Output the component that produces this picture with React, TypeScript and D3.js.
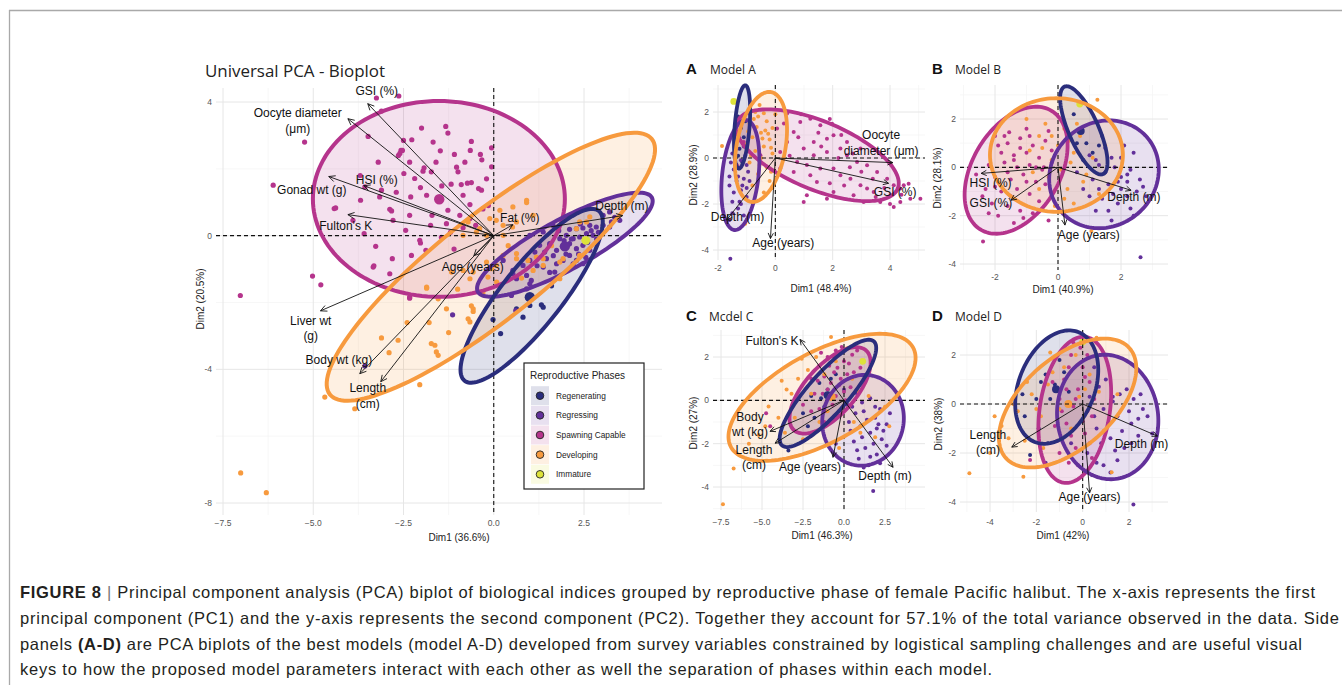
import React from 'react';
import * as d3 from 'd3';

type P = [number, number];
type Ell = [number, number, number, number, number, number];

// ---------- groups ----------
const groupNames = ['Regenerating', 'Regressing', 'Spawning Capable', 'Developing', 'Immature'];
const groupColors = ['#2a2d7c', '#62309a', '#b5348c', '#f79a3e', '#dde23a'];

// ---------- main panel data ----------
const mainRegenerating: P[] = [[1.0,-2.09],[0.81,-2.44],[-0.02,-2.51],[0.19,-2.93],[1.32,-2.07],[1.37,-2.14],[0.63,-2.19],[1.6,-1.5]];
const mainRegressing: P[] = [[3.49,0.46],[3.26,0.41],[3.03,0.31],[2.84,0.26],[2.66,0.31],[2.47,0.23],[2.29,0.21],[2.1,0.19],[2.75,0.01],[2.57,0.06],[2.38,-0.04],[2.2,-0.09],[2.01,0.01],[1.83,-0.09],[2.47,-0.29],[2.29,-0.39],[2.1,-0.24],[1.92,-0.34],[1.74,-0.44],[1.55,-0.29],[1.41,-0.49],[2.1,-0.59],[1.92,-0.74],[2.29,-0.74],[2.47,-0.84],[1.74,-0.84],[1.46,-0.69],[1.27,-0.29],[1.14,-0.49],[1.0,-0.74],[0.81,-0.89],[0.63,-1.29],[0.91,-1.19],[3.03,0.61],[3.21,0.71],[1.0,0.01],[1.37,0.11],[1.64,0.31],[3.21,0.26],[2.66,-0.44],[2.2,-0.84],[1.0,-1.44],[0.53,-1.14],[0.26,-0.74],[1.55,-0.24],[0.49,-1.79],[0.61,-2.24],[0.91,-1.59],[1.37,-0.94],[1.69,-1.09],[2.2,-0.89],[1.04,-1.34],[0.53,-1.04],[-1.14,-2.37],[-3.57,-3.9],[2.9,0.1],[2.6,-0.2],[1.8,0.15],[2.0,-0.55],[2.7,0.15],[2.4,0.35],[2.15,-0.1],[1.95,-0.15],[1.65,-0.6],[2.35,-0.55],[2.85,-0.1],[1.2,-0.9],[1.55,-1.1],[3.35,0.55],[2.55,-0.65]];
const mainSpawning: P[] = [[-3.25,4.12],[-2.63,4.18],[-1.33,3.27],[-2.0,3.22],[-2.27,2.87],[-2.5,2.85],[-1.68,2.8],[-1.27,3.07],[-0.62,2.82],[-0.06,2.63],[-1.48,2.54],[-1.09,2.43],[-0.65,2.55],[-0.37,2.43],[-0.33,2.27],[-2.57,2.55],[-2.64,2.4],[-3.2,2.2],[-0.06,2.06],[-1.03,2.05],[-0.99,1.91],[-1.93,2.03],[-1.96,1.93],[-1.73,1.91],[-2.49,1.86],[-2.19,1.71],[-1.18,1.54],[-0.9,1.53],[-0.73,1.57],[-0.62,1.59],[-0.42,1.41],[-0.34,1.36],[-2.03,1.44],[-1.44,1.49],[-2.3,1.16],[-1.86,1.21],[-0.85,1.21],[-0.66,0.93],[-3.16,1.16],[-3.69,1.06],[-2.88,0.79],[-2.83,0.74],[-4.38,0.83],[-2.33,0.61],[-1.71,0.61],[-1.27,0.76],[-0.94,0.61],[-0.66,0.51],[-2.44,0.16],[-1.75,0.31],[-1.31,0.36],[-0.85,0.24],[-0.5,0.31],[-2.05,-0.14],[-2.03,-0.22],[-1.88,-0.44],[-2.28,-0.59],[-2.81,-0.69],[-3.34,-0.94],[-2.88,-1.14],[-2.33,-1.84],[-3.11,3.73],[-5.24,2.8],[-6.11,1.51],[-4.42,0.81],[-3.48,2.97],[-3.57,1.46],[-3.9,0.46],[-3.59,0.06],[-3.27,-0.32],[-3.32,-0.9],[-2.33,2.2],[-2.6,2.46],[-2.53,2.55],[-3.11,1.36],[-2.79,0.46],[-5.02,-1.21],[-4.79,-1.47],[-7.02,-1.79],[-2.33,-1.87],[-1.45,-0.05],[-0.3,0.8],[-1.1,-0.4],[-0.2,1.7],[-1.6,2.2],[-0.8,2.2],[-2.7,1.3],[-1.2,0.1],[-0.15,0.9],[-3.7,1.8]];
const mainDeveloping: P[] = [[0.07,0.46],[0.26,0.31],[0.52,0.26],[0.63,0.41],[0.91,0.99],[1.09,0.61],[0.26,0.01],[-0.2,0.01],[-0.48,0.11],[-0.85,0.01],[-0.71,0.41],[-0.11,0.51],[-0.39,0.21],[-1.86,-1.54],[-1.17,-1.09],[-0.85,-1.04],[-0.57,-1.09],[-0.66,-1.29],[-0.2,-0.79],[0.07,-0.89],[0.26,-0.59],[0.63,-0.54],[1.18,-0.64],[1.37,-0.89],[1.09,-1.04],[1.92,-0.69],[2.38,0.41],[1.97,0.51],[2.57,0.41],[1.83,-1.29],[-0.57,-2.19],[-1.31,-2.19],[-3.11,-3.06],[-2.65,-3.13],[-1.86,-1.57],[-1.54,-1.89],[-1.79,-2.6],[-1.73,-3.23],[-1.63,-3.28],[-1.59,-3.48],[-1.54,-3.58],[-0.71,-2.49],[-0.66,-2.58],[-0.62,-2.1],[-0.57,-2.27],[-2.05,-4.46],[-4.68,-4.83],[-3.85,-5.18],[-7.01,-7.1],[-6.3,-7.69],[-0.06,-0.99],[-0.16,-1.24],[0.08,-1.39],[0.63,-0.69],[0.95,-0.74],[1.37,-0.69],[1.83,-0.79],[2.38,-0.59],[0.77,-1.27],[0.91,1.06],[0.53,0.86],[0.17,0.76],[2.66,0.56],[2.29,0.21],[-2.4,-2.6],[-1.0,-1.6],[-0.3,-1.7],[0.4,-0.3],[1.6,-0.3],[-1.25,-2.9],[-2.9,-3.5]];
const mainImmature: P[] = [[2.55,-0.14]];
const mainCentroids: (P | null)[] = [[1.0,-1.84],[1.97,-0.32],[-1.51,1.09],null,null];
const mainEllipses: (Ell | null)[] = [
  [1.05,-1.80,1.86,2.54,0.65,-0.56],
  [1.97,-0.27,2.41,1.41,0.33,-0.66],
  [-1.52,1.1,3.49,0,0,2.93],
  [-0.08,-0.93,4.46,3.82,0.89,-1.22],
  null,
];
const mainVarX = [-3.49,-4.04,-3.6,-4.57,-4.04,0.53,3.57,-0.55,-4.8,-3.71,-3.13];
const mainVarY = [3.95,3.5,1.5,1.77,0.63,0.33,0.6,-0.6,-2.25,-4.13,-4.37];
const mainLabelText = ['GSI (%)','Oocyte diameter\n(μm)','HSI (%)','Gonad wt (g)',"Fulton's K",'Fat (%)','Depth (m)','Age (years)','Liver wt\n(g)','Body wt (kg)','Length\n(cm)'];
const mainLabelX = [-3.24,-5.43,-3.24,-5.04,-4.1,0.72,3.55,-0.58,-5.07,-4.29,-3.49];
const mainLabelY = [4.34,3.44,1.68,1.38,0.3,0.54,0.9,-0.93,-2.78,-3.71,-4.79];

// ---------- panel A ----------
const aRegenerating: P[] = [[-1.3,1.8],[-1.2,1.3],[-1.1,0.9],[-1.25,0.4],[-1.15,-0.2],[-1.3,0.1],[-1.05,1.6]];
const aRegressing: P[] = [[-1.4,0.8],[-1.1,0.5],[-1.5,0.2],[-1.2,-0.1],[-1.0,-0.3],[-1.45,-0.5],[-1.3,-0.8],[-0.9,-1.0],[-1.6,-1.2],[-1.2,-1.4],[-1.0,-1.7],[-1.5,-1.9],[-1.3,-2.2],[-1.1,-2.5],[-1.6,-2.7],[-1.35,-1.0],[-1.05,0.1],[-1.55,-0.2],[-1.25,-1.9],[-0.95,-0.6],[-1.57,-4.38],[-1.4,-0.3],[-1.15,-1.2],[-1.3,-0.4],[-1.1,-0.9],[-1.45,-1.5],[-1.2,-2.0],[-1.5,-2.4],[-1.35,0.4],[-1.0,-1.3],[-1.6,-0.8]];
const aSpawning: P[] = [[0.41,1.93],[0.87,1.57],[0.64,1.13],[1.22,1.71],[1.57,1.42],[1.8,0.84],[2.03,0.99],[1.34,0.7],[0.99,0.41],[0.41,0.7],[0.17,0.26],[0.76,-0.17],[1.34,0.12],[1.8,0.26],[2.27,0.41],[2.5,0.12],[2.85,-0.17],[3.2,-0.32],[3.55,-0.61],[3.9,-0.9],[4.13,-1.19],[4.36,-1.33],[4.71,-1.77],[4.48,-1.19],[4.01,-1.62],[3.66,-1.91],[3.43,-1.48],[2.97,-1.19],[2.62,-0.9],[2.27,-0.75],[2.03,-0.46],[1.57,-0.46],[1.22,-0.75],[0.64,-0.61],[1.45,-1.04],[2.03,-1.48],[2.73,-1.62],[3.08,-1.91],[1.1,-1.62],[0.99,-1.91],[0.17,-0.46],[0.06,1.28],[1.98,1.49],[2.5,0.7],[2.97,0.41],[4.13,-2.13],[4.36,-1.91],[5.06,-1.77],[4.65,-1.12],[1.8,-1.77],[3.2,-1.33],[-0.52,0.12],[-1.1,0.7],[-1.34,-0.32],[0.3,1.5],[0.9,1.9],[1.5,1.1],[2.3,1.0],[2.7,0.2],[3.4,-0.9],[3.8,-1.3],[4.4,-1.6],[1.9,-1.1],[2.4,-1.2],[0.5,0.1],[1.1,-0.3],[1.6,0.5],[3.0,-0.6],[4.0,-2.0],[2.2,0.0],[0.8,0.9],[1.9,1.7],[2.6,-0.4],[3.5,-1.7]];
const aDeveloping: P[] = [[-0.9,1.5],[-0.6,1.8],[-0.3,1.6],[-0.1,1.3],[-0.5,1.1],[-0.8,0.9],[-0.2,0.8],[-0.4,0.5],[-0.7,0.3],[-0.1,0.2],[-0.5,0],[-0.9,-0.2],[-0.3,-0.4],[-0.6,-0.7],[-0.2,-1.0],[-0.8,-1.2],[-0.4,-1.5],[-1.0,0.6],[0.0,1.9],[-0.7,2.0],[-1.86,0.52],[-0.1,-1.3],[-0.35,1.2],[-0.65,1.35],[-0.15,0.45],[-0.55,2.3],[-1.05,-2.86],[-0.45,0.85],[-0.75,1.7],[-0.25,1.05],[-0.55,-0.3],[-0.85,0.1],[-0.15,-0.6],[-0.4,1.95],[-0.95,1.15]];
const aImmature: P[] = [[-1.45,2.46]];
const aEllipses: (Ell | null)[] = [
  [-1.16,1.35,0.11,1.81,0.26,0],
  [-1.22,-0.74,0.21,2.39,0.63,-0.09],
  [1.47,0.12,2.8,-1.45,-0.45,-1.37],
  [-0.5,0.48,0.32,2.39,0.85,-0.1],
  null,
];
const aVarX = [4.1,3.95,-1.7,-0.17];
const aVarY = [-0.2,-1.1,-2.7,-3.5];
const aLabelText = ['Oocyte\ndiameter (μm)','GSI (%)','Depth (m)','Age (years)'];
const aLabelX = [3.69,4.18,-1.32,0.28];
const aLabelY = [0.65,-1.48,-2.57,-3.7];

// ---------- panel B ----------
const bRegenerating: P[] = [[0.5,2.2],[0.7,1.5],[0.9,1.0],[1.1,0.6],[0.8,0.3],[1.3,0.9],[0.6,1.0]];
const bRegressing: P[] = [[1.0,0.5],[1.5,0.8],[2.0,0.4],[2.4,0.6],[1.3,0.1],[1.8,0.0],[2.2,-0.3],[2.6,-0.5],[1.1,-0.5],[1.6,-0.7],[2.0,-0.9],[2.5,-1.0],[1.4,-1.3],[1.9,-1.5],[2.3,-1.7],[0.8,-0.9],[1.2,-1.8],[1.7,-2.2],[2.8,-1.2],[0.6,-0.2],[2.1,0.9],[1.4,1.3],[2.62,-3.72],[2.2,-0.6],[1.75,-1.1],[1.2,0.3],[1.7,0.4],[2.3,-0.1],[1.5,-0.2],[2.0,-0.4],[1.3,-0.9],[2.2,-1.2],[1.6,-1.8],[2.7,-0.8],[1.0,-1.2],[1.9,-0.6],[2.4,-2.0]];
const bSpawning: P[] = [[-2.0,1.3],[-1.6,1.0],[-1.2,1.2],[-0.8,0.9],[-0.4,1.1],[-1.8,0.6],[-1.4,0.5],[-1.0,0.6],[-0.6,0.4],[-0.2,0.7],[-2.2,0.1],[-1.7,0.2],[-1.3,0.0],[-0.9,0.1],[-0.5,-0.1],[-2.0,-0.4],[-1.5,-0.5],[-1.1,-0.3],[-0.7,-0.6],[-2.3,-0.9],[-1.8,-1.0],[-1.3,-0.9],[-0.9,-1.1],[-2.1,-1.5],[-1.6,-1.6],[-1.2,-1.8],[-0.6,-1.4],[-1.9,-2.0],[-1.4,-2.3],[-2.4,-1.2],[-0.3,-2.2],[-0.8,-1.9],[-2.6,-0.3],[-1.0,1.6],[-0.3,1.5],[-1.55,1.45],[-0.45,0.0],[-2.38,-3.07],[-1.9,0.9],[-1.2,0.8],[-0.7,0.0],[-1.6,-0.2],[-2.0,-0.8],[-1.0,-0.6],[-1.5,-1.2],[-0.4,-0.7],[-1.7,1.3],[-0.9,1.3],[-2.2,-1.9],[-1.1,-2.1],[-0.2,0.2],[-1.4,0.3]];
const bDeveloping: P[] = [[-1.0,2.0],[-0.4,1.8],[0.2,1.6],[0.7,1.3],[1.25,2.8],[-0.6,1.3],[0.0,0.9],[0.5,0.6],[1.1,0.4],[-0.2,0.3],[-0.3,-0.4],[0.3,-0.9],[0.8,-0.6],[1.3,-1.1],[-0.1,-1.6],[0.5,-1.5],[1.06,-2.63],[-0.8,-0.2],[0.1,-0.1],[1.5,0.9],[-0.9,0.7],[0.35,1.1],[-0.5,0.8],[0.4,0.2],[0.9,-0.3],[-0.6,-0.9],[0.2,-1.3],[0.6,1.8],[-0.2,1.3]];
const bImmature: P[] = [[0.69,2.62]];
const bCentroids: (P | null)[] = [[0.72,1.5],null,null,null,null];
const bEllipses: (Ell | null)[] = [
  [0.82,1.53,-0.61,1.81,0.44,0.24],
  [1.46,-0.29,0.32,2.22,1.71,-0.21],
  [-1.33,-0.12,1.11,2.47,1.2,-0.9],
  [-0.05,0.51,2.11,0,0,2.35],
  null,
];
const bVarX = [-2.44,-1.49,2.32,0.22];
const bVarY = [-0.25,-1.36,-0.95,-2.39];
const bLabelText = ['HSI (%)','GSI (%)','Depth (m)','Age (years)'];
const bLabelX = [-2.14,-2.13,2.41,0.98];
const bLabelY = [-0.66,-1.48,-1.23,-2.8];

// ---------- panel C ----------
const cRegenerating: P[] = [[-2.0,0.2],[-1.5,0.8],[-1.0,0.5],[-2.5,-0.6],[-3.39,-2.31],[-0.5,1.2],[-1.8,-0.8],[-1.2,-0.3],[-2.2,-1.2],[-1.4,0.1],[-0.8,1.0]];
const cRegressing: P[] = [[0.0,0.5],[0.8,0.3],[1.6,0.1],[2.2,-0.4],[0.5,-0.3],[1.2,-0.5],[1.9,-0.8],[2.6,-1.1],[0.3,-1.0],[1.0,-1.2],[1.6,-1.5],[2.3,-1.8],[0.6,-1.9],[1.3,-2.2],[2.0,-2.5],[-0.5,-2.0],[0.9,-2.7],[1.78,-4.18],[2.8,-0.6],[-0.3,-0.5],[1.5,-3.0],[1.1,-0.1],[2.0,-1.3],[0.7,-0.6],[1.4,-0.9],[2.1,-1.1],[0.4,-1.4],[1.1,-1.7],[1.8,-2.0],[2.4,-1.4],[0.8,-2.3],[1.6,-2.6],[2.6,-2.1],[0.2,-0.2],[1.9,-0.3],[1.2,-3.1],[2.2,-2.9]];
const cSpawning: P[] = [[-1.5,1.6],[-1.0,2.0],[-0.5,2.3],[0.0,1.8],[0.5,2.1],[-2.0,1.0],[-1.2,1.1],[-0.6,1.3],[0.2,1.2],[-1.8,0.3],[-1.0,0.5],[-0.3,0.7],[0.4,0.6],[-2.5,-0.2],[-1.5,-0.4],[-0.7,-0.2],[0.1,0.0],[-1.2,-1.0],[-0.4,-0.7],[-4.75,-0.6],[-4.5,-1.2],[1.0,1.5],[-0.14,2.46],[0.8,2.3],[-1.3,0.3],[-0.8,0.8],[-0.4,1.5],[0.0,0.4],[-1.6,0.9],[-0.9,1.6],[-0.2,1.0],[0.3,1.7],[-1.1,-0.5],[-0.5,0.2],[-2.0,-0.5],[0.6,1.3],[-0.6,2.0],[-1.4,2.2]];
const cDeveloping: P[] = [[-0.79,2.92],[-2.58,1.92],[-3.5,0.5],[-4.6,-0.28],[-4.8,-1.2],[-3.0,-0.8],[-2.0,0.3],[-1.2,1.2],[-0.5,1.8],[0.5,1.0],[1.5,0.2],[2.76,-1.2],[-1.0,-0.5],[-6.73,-3.15],[-7.38,-4.8],[-5.8,-2.0],[1.0,-1.5],[-2.5,-1.8],[-1.5,-1.0],[-3.8,0.9],[0.2,2.4],[2.5,-0.3],[-2.2,1.4],[-0.3,-2.2],[-3.2,0.3],[-4.0,-0.8],[-2.8,1.0],[-1.7,2.0],[0.9,0.4],[-3.6,-1.5],[-5.2,-1.6],[0.6,-1.0],[1.9,-1.7]];
const cImmature: P[] = [[1.14,1.8]];
const cCentroids: (P | null)[] = [[-1.0,0.23],null,null,[-0.75,0.15],null];
const cEllipses: (Ell | null)[] = [
  [-0.98,0.32,2.8,2.4,0.91,-0.61],
  [1.16,-0.92,0.49,2.07,2.44,-0.32],
  [-0.85,0.46,2.2,1.84,1.13,-0.77],
  [-1.34,0.14,5.55,2.3,1.32,-1.82],
  null,
];
const cVarX = [-2.68,-4.51,-4.2,-0.67,2.99];
const cVarY = [2.81,-1.43,-1.98,-2.63,-3.09];
const cLabelText = ["Fulton's K",'Body\nwt (kg)','Length\n(cm)','Age (years)','Depth (m)'];
const cLabelX = [-4.39,-5.73,-5.49,-2.07,2.5];
const cLabelY = [2.72,-1.11,-2.63,-3.09,-3.5];

// ---------- panel D ----------
const dRegenerating: P[] = [[-1.6,1.2],[-1.2,0.8],[-2.0,0.2],[-2.5,-0.5],[-1.0,1.8],[-0.6,0.5],[-1.9,-1.0],[-2.27,-2.08],[-1.4,0.2],[-1.8,0.9],[-0.8,1.3],[-2.6,0.4],[-1.5,-1.6]];
const dRegressing: P[] = [[0.5,1.5],[1.0,1.0],[1.6,0.4],[2.2,0.2],[0.3,0.3],[0.9,-0.2],[1.5,-0.5],[2.1,-0.8],[2.6,-0.2],[0.6,-1.0],[1.2,-1.4],[1.8,-1.8],[0.2,-2.0],[0.9,-2.5],[1.5,-2.3],[2.19,-4.1],[-0.5,-1.6],[2.8,-0.5],[1.9,0.6],[0.4,-2.9],[-1.6,-2.4],[1.3,0.3],[2.4,-1.3],[0.7,0.7],[1.3,0.1],[2.0,-0.3],[0.5,-0.5],[1.1,-0.8],[1.7,-1.1],[2.4,-0.6],[0.8,-1.6],[1.4,-1.9],[2.1,-1.6],[0.6,-2.4],[1.2,-2.8],[1.0,2.0],[2.5,0.4],[3.0,-1.2]];
const dSpawning: P[] = [[-0.5,2.0],[0.0,1.5],[-0.8,1.0],[-0.2,0.6],[0.3,0.9],[-1.0,0.2],[-0.4,-0.1],[0.2,-0.3],[-0.7,-0.8],[0.1,-1.2],[-1.1,-1.5],[-0.3,-1.8],[0.4,-2.2],[-0.6,-2.4],[-1.55,-2.52],[-0.1,2.3],[0.5,0.2],[-1.3,0.9],[-2.27,-2.29],[-0.6,1.5],[0.1,1.1],[-0.3,0.2],[-0.9,-0.3],[0.0,-0.7],[-0.5,-1.3],[-0.2,-2.5],[0.3,-1.6],[-1.2,-0.9],[0.2,2.0],[-0.7,0.6],[0.4,-0.5],[-1.0,-2.0],[-0.4,2.5]];
const dDeveloping: P[] = [[-4.89,-2.83],[-2.56,-2.97],[-3.5,-0.9],[-2.8,-0.3],[-2.2,0.4],[-1.5,0.8],[-0.8,1.5],[-0.3,2.0],[0.3,1.2],[0.7,0.5],[-1.0,-0.2],[-2.5,-1.5],[-4.0,-2.0],[1.25,-2.79],[1.5,0.4],[-0.5,-1.0],[-3.0,0.0],[-1.8,-0.5],[0.6,2.7],[-1.4,2.1],[-0.15,0.3],[-2.0,-0.2],[-3.2,-1.4],[-1.3,1.3],[-2.4,0.9],[0.1,0.6],[-3.8,-0.5],[-1.7,-1.8],[0.9,-1.1]];
const dImmature: P[] = [[0,2.53]];
const dCentroids: (P | null)[] = [[-1.15,0.6],null,null,[-0.62,0],null];
const dEllipses: (Ell | null)[] = [
  [-1.12,0.69,0.95,2.24,1.52,-0.58],
  [1.08,-0.53,-0.34,2.53,2.16,0.24],
  [-0.34,-0.24,0.43,2.98,1.51,-0.12],
  [-0.65,0.04,2.67,2.24,1.29,-1.38],
  null,
];
const dVarX = [-3.06,3.23,0.3];
const dVarY = [-1.76,-1.31,-3.63];
const dLabelText = ['Length\n(cm)','Depth (m)','Age (years)'];
const dLabelX = [-4.09,2.54,0.3];
const dLabelY = [-1.57,-1.63,-3.8];

// ---------- caption ----------
const captionLines = [
  'Principal component analysis (PCA) biplot of biological indices grouped by reproductive phase of female Pacific halibut. The x-axis represents the first',
  'principal component (PC1) and the y-axis represents the second component (PC2). Together they account for 57.1% of the total variance observed in the data. Side',
  ' are PCA biplots of the best models (model A-D) developed from survey variables constrained by logistical sampling challenges and are useful visual',
  'keys to how the proposed model parameters interact with each other as well the separation of phases within each model.',
];

const FONT = "'Liberation Sans', Arial, Helvetica, sans-serif";
const TFONT = "'Open Sans', 'Noto Sans', sans-serif";

interface PanelSpec {
  xDomain: [number, number]; xRange: [number, number];
  yDomain: [number, number]; yRange: [number, number];
  box: [number, number, number, number];
  xBreaks: number[]; yBreaks: number[]; xMinor: number[]; yMinor: number[];
  xFmt: (v: number) => string;
  xTickY: number;
  xTitle: string; xTitlePos: [number, number];
  yTitle: string; yTitlePos: [number, number];
  points: P[][];
  centroids: (P | null)[];
  ellipses: (Ell | null)[];
  ellOrder: number[];
  varX: number[]; varY: number[];
  labelText: string[]; labelX: number[]; labelY: number[];
  r: number; ellW: number; labelSize: number; tickSize: number; titleSize: number;
  headLen: number;
}

function Panel({ s }: { s: PanelSpec }) {
  const x = d3.scaleLinear().domain(s.xDomain).range(s.xRange);
  const y = d3.scaleLinear().domain(s.yDomain).range(s.yRange);
  const [L, T, R, B] = s.box;
  const line = d3.line<[number, number]>().curve(d3.curveLinearClosed);
  const ellPath = (e: Ell) => {
    const pts = d3.range(0, 140).map((i) => {
      const t = (i / 140) * 2 * Math.PI;
      return [
        x(e[0] + Math.cos(t) * e[2] + Math.sin(t) * e[4]),
        y(e[1] + Math.cos(t) * e[3] + Math.sin(t) * e[5]),
      ] as [number, number];
    });
    return line(pts) || '';
  };
  const x0 = x(0), y0 = y(0);
  return (
    <g>
      {s.xMinor.map((v, i) => (
        <line key={'xm' + i} x1={x(v)} x2={x(v)} y1={T} y2={B} stroke="#f3f3f3" strokeWidth={0.7} />
      ))}
      {s.yMinor.map((v, i) => (
        <line key={'ym' + i} x1={L} x2={R} y1={y(v)} y2={y(v)} stroke="#f3f3f3" strokeWidth={0.7} />
      ))}
      {s.xBreaks.map((v, i) => (
        <line key={'xg' + i} x1={x(v)} x2={x(v)} y1={T} y2={B} stroke="#e6e6e6" strokeWidth={1} />
      ))}
      {s.yBreaks.map((v, i) => (
        <line key={'yg' + i} x1={L} x2={R} y1={y(v)} y2={y(v)} stroke="#e6e6e6" strokeWidth={1} />
      ))}
      {s.xBreaks.map((v, i) => (
        <text key={'xt' + i} x={x(v)} y={s.xTickY} fontSize={s.tickSize} fill="#555" textAnchor="middle" dominantBaseline="central" fontFamily={FONT}>{s.xFmt(v)}</text>
      ))}
      {s.yBreaks.map((v, i) => (
        <text key={'yt' + i} x={L - 4} y={y(v)} fontSize={s.tickSize} fill="#555" textAnchor="end" dominantBaseline="central" fontFamily={FONT}>{String(v)}</text>
      ))}
      <text x={s.xTitlePos[0]} y={s.xTitlePos[1]} fontSize={s.titleSize} fill="#222" textAnchor="middle" dominantBaseline="central" fontFamily={FONT}>{s.xTitle}</text>
      <text transform={`translate(${s.yTitlePos[0]},${s.yTitlePos[1]}) rotate(-90)`} fontSize={s.titleSize} fill="#222" textAnchor="middle" dominantBaseline="central" fontFamily={FONT}>{s.yTitle}</text>
      {s.ellOrder.map((g) => {
        const e = s.ellipses[g];
        return e ? <path key={'ef' + g} d={ellPath(e)} fill={groupColors[g]} fillOpacity={0.15} stroke="none" /> : null;
      })}
      {s.points.map((pts, g) =>
        pts.map((p, i) => (
          <circle key={'p' + g + '-' + i} cx={x(p[0])} cy={y(p[1])} r={g === 4 ? s.r * 1.7 : s.r} fill={groupColors[g]} />
        ))
      )}
      {s.centroids.map((c, g) => (c ? <circle key={'c' + g} cx={x(c[0])} cy={y(c[1])} r={s.r * 2} fill={groupColors[g]} /> : null))}
      <line x1={x0} x2={x0} y1={T} y2={B} stroke="#111" strokeWidth={1.1} strokeDasharray="4 3" />
      <line x1={L} x2={R} y1={y0} y2={y0} stroke="#111" strokeWidth={1.1} strokeDasharray="4 3" />
      {s.ellOrder.map((g) => {
        const e = s.ellipses[g];
        return e ? <path key={'es' + g} d={ellPath(e)} fill="none" stroke={groupColors[g]} strokeWidth={s.ellW} /> : null;
      })}
      {s.varX.map((vx, i) => {
        const x1 = x(vx), y1 = y(s.varY[i]);
        const ang = Math.atan2(y1 - y0, x1 - x0);
        const h = s.headLen, sp = 0.45;
        const d = `M${x0},${y0}L${x1},${y1}M${x1 - h * Math.cos(ang - sp)},${y1 - h * Math.sin(ang - sp)}L${x1},${y1}L${x1 - h * Math.cos(ang + sp)},${y1 - h * Math.sin(ang + sp)}`;
        return <path key={'a' + i} d={d} fill="none" stroke="#111" strokeWidth={0.9} />;
      })}
      {s.labelText.map((t, i) => {
        const lines = t.split('\n');
        const lh = s.labelSize * 1.3;
        const cy = y(s.labelY[i]) - ((lines.length - 1) * lh) / 2;
        return (
          <text key={'l' + i} x={x(s.labelX[i])} y={cy} fontSize={s.labelSize} fill="#111" textAnchor="middle" dominantBaseline="central" fontFamily={FONT}>
            {lines.map((ln, j) => (
              <tspan key={j} x={x(s.labelX[i])} y={cy + j * lh}>{ln}</tspan>
            ))}
          </text>
        );
      })}
    </g>
  );
}

const fmt1 = d3.format('.1f');
const fmt0 = (v: number) => String(v);
const order = [2, 1, 0, 3];

const mainSpec: PanelSpec = {
  xDomain: [-7.5, 2.5], xRange: [223, 584], yDomain: [-8, 4], yRange: [503, 102],
  box: [216, 88, 662, 515],
  xBreaks: [-7.5, -5, -2.5, 0, 2.5], yBreaks: [-8, -4, 0, 4],
  xMinor: [-6.25, -3.75, -1.25, 1.25, 3.75], yMinor: [-6, -2, 2],
  xFmt: fmt1, xTickY: 523,
  xTitle: 'Dim1 (36.6%)', xTitlePos: [459, 537], yTitle: 'Dim2 (20.5%)', yTitlePos: [200, 299],
  points: [mainRegenerating, mainRegressing, mainSpawning, mainDeveloping, mainImmature],
  centroids: mainCentroids, ellipses: mainEllipses, ellOrder: order,
  varX: mainVarX, varY: mainVarY, labelText: mainLabelText, labelX: mainLabelX, labelY: mainLabelY,
  r: 2.6, ellW: 4, labelSize: 12, tickSize: 8.5, titleSize: 10, headLen: 7,
};
const aSpec: PanelSpec = {
  xDomain: [-2, 4], xRange: [718, 890], yDomain: [-4, 2], yRange: [250, 112],
  box: [713, 85, 925, 260],
  xBreaks: [-2, 0, 2, 4], yBreaks: [-4, -2, 0, 2], xMinor: [-1, 1, 3, 5], yMinor: [-3, -1, 1, 3],
  xFmt: fmt0, xTickY: 268,
  xTitle: 'Dim1 (48.4%)', xTitlePos: [821, 288], yTitle: 'Dim2 (28.9%)', yTitlePos: [693, 175],
  points: [aRegenerating, aRegressing, aSpawning, aDeveloping, aImmature],
  centroids: [null, null, null, null, null], ellipses: aEllipses, ellOrder: order,
  varX: aVarX, varY: aVarY, labelText: aLabelText, labelX: aLabelX, labelY: aLabelY,
  r: 2, ellW: 3.8, labelSize: 12, tickSize: 8.5, titleSize: 10, headLen: 6,
};
const bSpec: PanelSpec = {
  xDomain: [-2, 2], xRange: [995, 1121], yDomain: [-4, 2], yRange: [264, 119],
  box: [960, 85, 1168, 270],
  xBreaks: [-2, 0, 2], yBreaks: [-4, -2, 0, 2], xMinor: [-3, -1, 1, 3], yMinor: [-3, -1, 1, 3],
  xFmt: fmt0, xTickY: 277,
  xTitle: 'Dim1 (40.9%)', xTitlePos: [1063, 289], yTitle: 'Dim2 (28.1%)', yTitlePos: [937, 178],
  points: [bRegenerating, bRegressing, bSpawning, bDeveloping, bImmature],
  centroids: bCentroids, ellipses: bEllipses, ellOrder: order,
  varX: bVarX, varY: bVarY, labelText: bLabelText, labelX: bLabelX, labelY: bLabelY,
  r: 2, ellW: 3.8, labelSize: 12, tickSize: 8.5, titleSize: 10, headLen: 6,
};
const cSpec: PanelSpec = {
  xDomain: [-7.5, 2.5], xRange: [721, 885], yDomain: [-4, 2], yRange: [487, 357],
  box: [713, 330, 925, 510],
  xBreaks: [-7.5, -5, -2.5, 0, 2.5], yBreaks: [-4, -2, 0, 2], xMinor: [-6.25, -3.75, -1.25, 1.25, 3.75], yMinor: [-5, -3, -1, 1, 3],
  xFmt: fmt1, xTickY: 522,
  xTitle: 'Dim1 (46.3%)', xTitlePos: [822, 535], yTitle: 'Dim2 (27%)', yTitlePos: [693, 423],
  points: [cRegenerating, cRegressing, cSpawning, cDeveloping, cImmature],
  centroids: cCentroids, ellipses: cEllipses, ellOrder: order,
  varX: cVarX, varY: cVarY, labelText: cLabelText, labelX: cLabelX, labelY: cLabelY,
  r: 2, ellW: 3.8, labelSize: 12, tickSize: 8.5, titleSize: 10, headLen: 6,
};
const dSpec: PanelSpec = {
  xDomain: [-4, 2], xRange: [990, 1129], yDomain: [-4, 2], yRange: [502, 355],
  box: [960, 330, 1168, 512],
  xBreaks: [-4, -2, 0, 2], yBreaks: [-4, -2, 0, 2], xMinor: [-5, -3, -1, 1, 3], yMinor: [-3, -1, 1],
  xFmt: fmt0, xTickY: 522,
  xTitle: 'Dim1 (42%)', xTitlePos: [1063, 535], yTitle: 'Dim2 (38%)', yTitlePos: [938, 424],
  points: [dRegenerating, dRegressing, dSpawning, dDeveloping, dImmature],
  centroids: dCentroids, ellipses: dEllipses, ellOrder: order,
  varX: dVarX, varY: dVarY, labelText: dLabelText, labelX: dLabelX, labelY: dLabelY,
  r: 2, ellW: 3.8, labelSize: 12, tickSize: 8.5, titleSize: 10, headLen: 6,
};

function Legend() {
  const rowY = d3.scaleLinear().domain([0, 4]).range([395.7, 474.3]);
  return (
    <g>
      <rect x={524} y={363} width={120} height={126} fill="#fff" stroke="#222" strokeWidth={1.2} />
      <text x={530} y={375} fontSize={10} fill="#222" dominantBaseline="central" fontFamily={FONT}>Reproductive Phases</text>
      {groupNames.map((g, i) => (
        <g key={g}>
          <rect x={531} y={rowY(i) - 9.5} width={18} height={19} fill={groupColors[i]} fillOpacity={0.15} />
          <circle cx={540} cy={rowY(i)} r={3.8} fill={groupColors[i]} stroke="#222" strokeWidth={0.9} />
          <text x={556} y={rowY(i)} fontSize={8.3} fill="#222" dominantBaseline="central" fontFamily={FONT}>{g}</text>
        </g>
      ))}
    </g>
  );
}

export default function App() {
  return (
    <div style={{ position: 'absolute', left: 0, top: 0 }}>
      <svg width={1342} height={685} style={{ display: 'block', background: '#fff' }}>
        <line x1={9} x2={1342} y1={10.5} y2={10.5} stroke="#a9a9a9" strokeWidth={1.3} />
        <line x1={9.5} x2={9.5} y1={10} y2={685} stroke="#a9a9a9" strokeWidth={1.3} />

        <text x={205} y={77} fontSize={16} fill="#222" fontFamily={TFONT} textLength={180} lengthAdjust="spacingAndGlyphs">Universal PCA - Bioplot</text>
        <Panel s={mainSpec} />
        <Legend />

        <text x={686} y={74} fontSize={15} fontWeight="bold" fill="#111" fontFamily={FONT}>A</text>
        <text x={710} y={74} fontSize={12} fill="#222" fontFamily={TFONT}>Model A</text>
        <Panel s={aSpec} />
        <text x={932} y={74} fontSize={15} fontWeight="bold" fill="#111" fontFamily={FONT}>B</text>
        <text x={955} y={74} fontSize={12} fill="#222" fontFamily={TFONT}>Model B</text>
        <Panel s={bSpec} />
        <text x={686} y={321} fontSize={15} fontWeight="bold" fill="#111" fontFamily={FONT}>C</text>
        <text x={709} y={321} fontSize={12} fill="#222" fontFamily={TFONT}>Mcdel C</text>
        <Panel s={cSpec} />
        <text x={932} y={321} fontSize={15} fontWeight="bold" fill="#111" fontFamily={FONT}>D</text>
        <text x={955} y={321} fontSize={12} fill="#222" fontFamily={TFONT}>Model D</text>
        <Panel s={dSpec} />

        <g fontFamily={FONT} fontSize={16.5} fill="#231f20">
          <text x={20} y={598} textLength={1295} lengthAdjust="spacing">
            <tspan fontWeight="bold">FIGURE 8</tspan>
            <tspan fill="#777"> | </tspan>
            <tspan>{captionLines[0]}</tspan>
          </text>
          <text x={20} y={624} textLength={1319} lengthAdjust="spacing">{captionLines[1]}</text>
          <text x={20} y={650} textLength={1282} lengthAdjust="spacing">
            <tspan>panels </tspan>
            <tspan fontWeight="bold">(A-D)</tspan>
            <tspan>{captionLines[2]}</tspan>
          </text>
          <text x={20} y={675} textLength={972} lengthAdjust="spacing">{captionLines[3]}</text>
        </g>
      </svg>
    </div>
  );
}
